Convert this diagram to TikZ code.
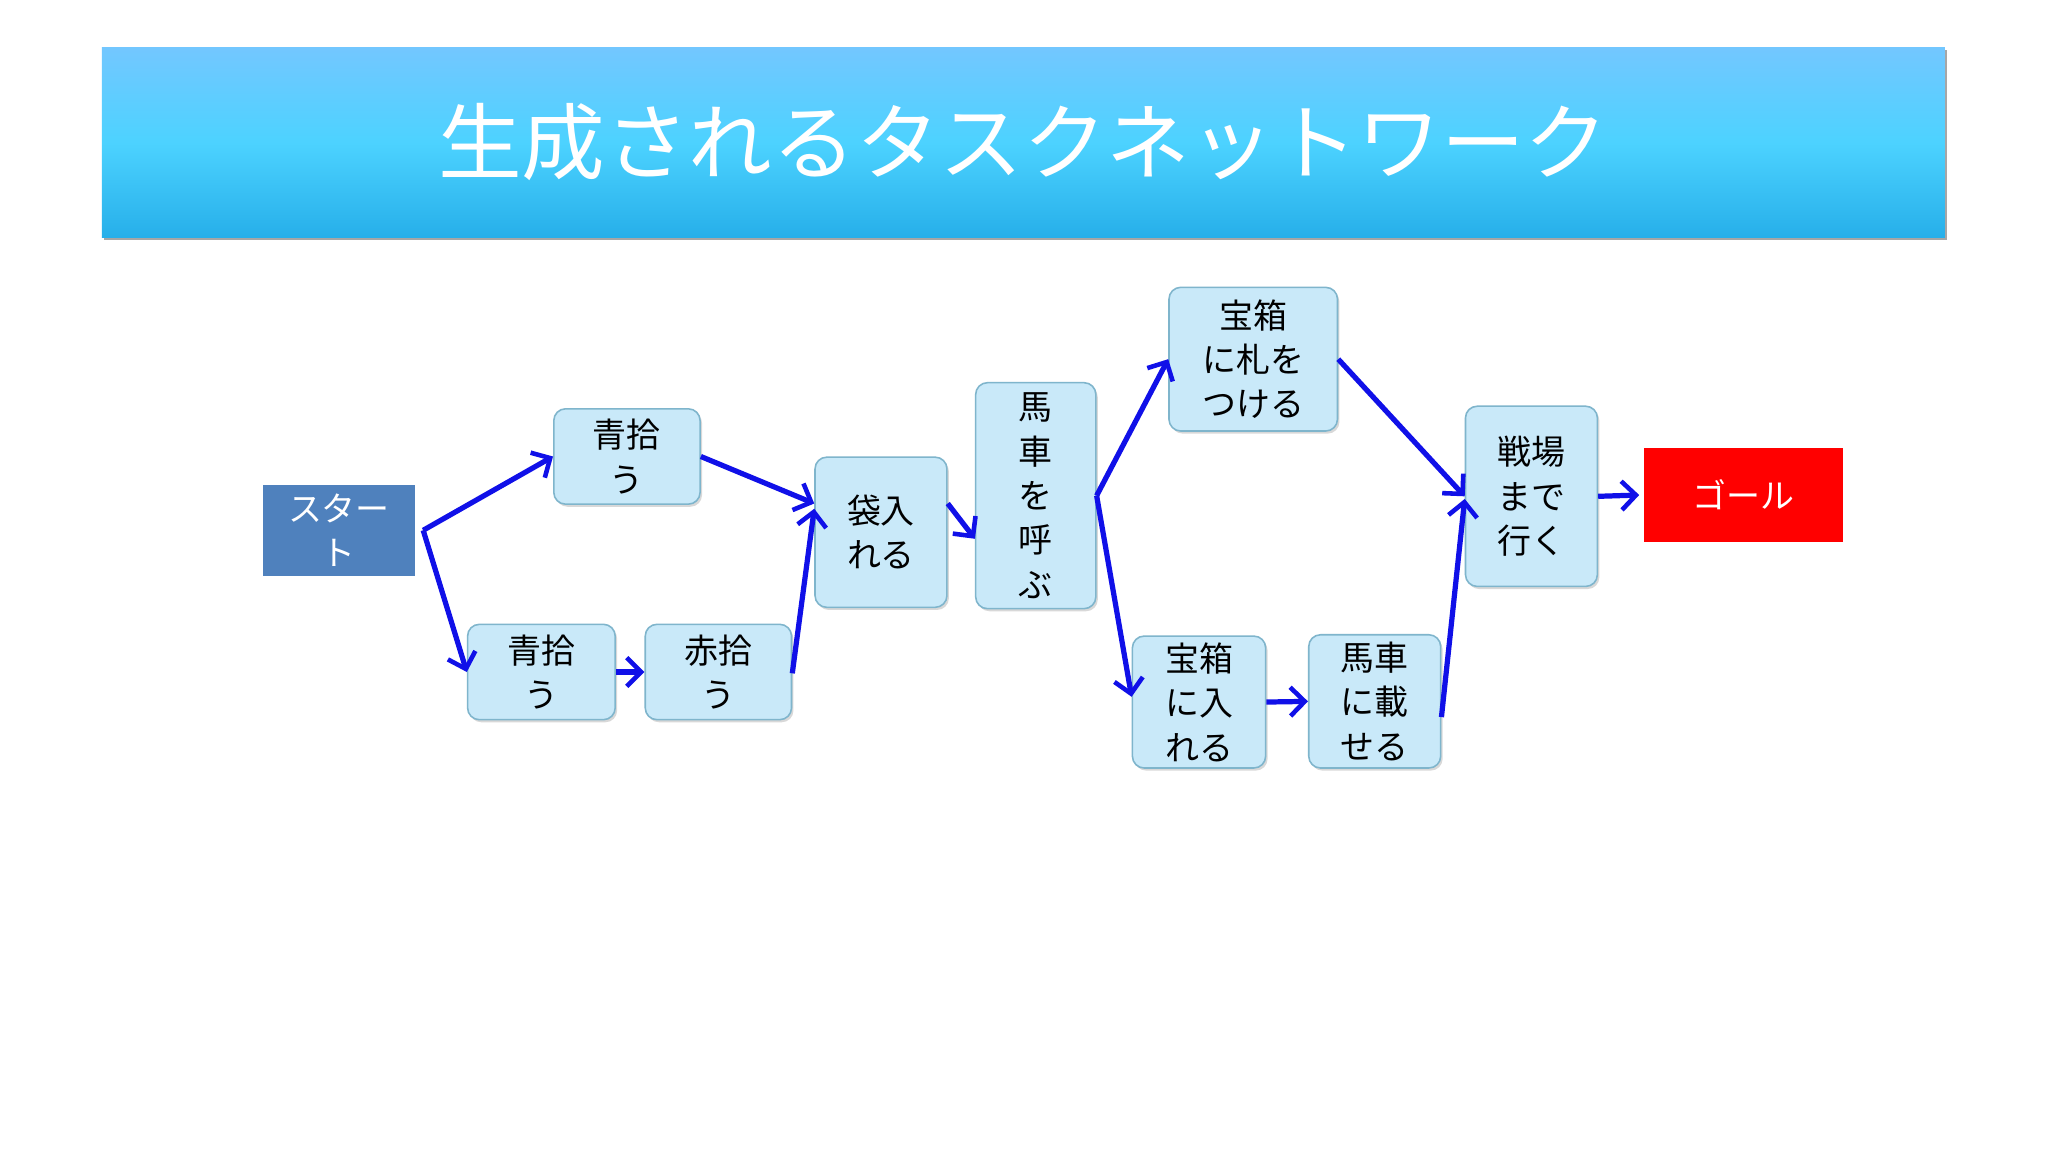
\documentclass[tikz,border=0pt]{standalone}
\usepackage{fontspec}
\setmainfont{Noto Sans CJK JP}
\usetikzlibrary{arrows.meta,shadows}
\definecolor{tbox}{HTML}{C9E9F9}
\definecolor{tbord}{HTML}{7FB5CC}
\definecolor{arr}{HTML}{1010E8}
\tikzset{
 task/.style={draw=tbord,line width=1.2pt,fill=tbox,rounded corners=9pt,align=center,
   font=\fontsize{26}{34}\selectfont,inner sep=0pt,drop shadow={shadow xshift=1.5pt,shadow yshift=-2pt,opacity=0.3}},
 con/.style={draw=arr,line width=4pt,-{Straight Barb[length=11pt,width=22pt,line width=3.5pt]}}
}
\begin{document}
\begin{tikzpicture}[x=1pt,y=-1pt]
\useasboundingbox (0,0) rectangle (1568,882);
\fill[white] (0,0) rectangle (1568,882);
% title
\fill[black!35] (80,38) rectangle (1491,184);
\shade[top color=cyan!60!blue!55!white,bottom color=cyan!70!blue!90!black!85,middle color=cyan!75!blue!70] (78,36) rectangle (1489,182);
\node[white,font=\fontsize{64}{70}\selectfont] (title) at (783.5,109) {生成されるタスクネットワーク};
% start & goal
\node[draw=white,line width=4pt,fill=blue!40!cyan!30!black!5!blue!60!white!0,minimum width=125pt,minimum height=78pt,
  drop shadow={shadow xshift=1.5pt,shadow yshift=-2pt,opacity=0.3},inner sep=0pt] (st) at (259.5,406) {};
\fill[fill={rgb,255:red,79;green,129;blue,189}] (201,371) rectangle (318,441);
\node[white,align=center,font=\fontsize{26}{34}\selectfont] at (259.5,406) {スター\\ト};
\node[draw=white,line width=4pt,fill=red,minimum width=156pt,minimum height=76pt,text=white,
  font=\fontsize{26}{34}\selectfont,drop shadow={shadow xshift=1.5pt,shadow yshift=-2pt,opacity=0.3}] (goal) at (1335,379) {ゴール};
% tasks
\node[task,minimum width=112pt,minimum height=73pt] (tq) at (480,349.5) {青拾\\う};
\node[task,minimum width=113pt,minimum height=73pt] (bq) at (414.5,514.5) {青拾\\う};
\node[task,minimum width=112pt,minimum height=73pt] (rq) at (550,514.5) {赤拾\\う};
\node[task,minimum width=101pt,minimum height=115pt] (bag) at (674.5,407.5) {袋入\\れる};
\node[task,minimum width=92pt,minimum height=173pt] (cart) at (793,379.5) {馬\\車\\を\\呼\\ぶ};
\node[task,minimum width=129pt,minimum height=110pt] (tag) at (959.5,275) {宝箱\\に札を\\つける};
\node[task,minimum width=102pt,minimum height=101pt] (box) at (918,537.5) {宝箱\\に入\\れる};
\node[task,minimum width=101pt,minimum height=102pt] (load) at (1052.5,537) {馬車\\に載\\せる};
\node[task,minimum width=101pt,minimum height=138pt] (go) at (1172.5,380) {戦場\\まで\\行く};
% connectors
\draw[con] (st.east) -- ([yshift=0pt]tq.west);
\draw[con] (st.east) -- (bq.west);
\draw[con] (tq.east) -- ([yshift=22pt]bag.west);
\draw[con] (bq.east) -- (rq.west);
\draw[con] ([yshift=-1pt]rq.east) -- ([yshift=18pt]bag.west);
\draw[con] ([yshift=22pt]bag.east) -- ([yshift=-5pt]cart.west |- bag.east) ;
\draw[con] (cart.east) -- (tag.west);
\draw[con] (cart.east) -- ([yshift=4pt]box.west);
\draw[con] ([yshift=0pt]tag.east) -- ([yshift=0pt]go.west);
\draw[con] (box.east) -- (load.west);
\draw[con] ([yshift=-12pt]load.east) -- ([yshift=-2pt]go.west);
\draw[con] (go.east) -- (goal.west);
\end{tikzpicture}
\end{document}
